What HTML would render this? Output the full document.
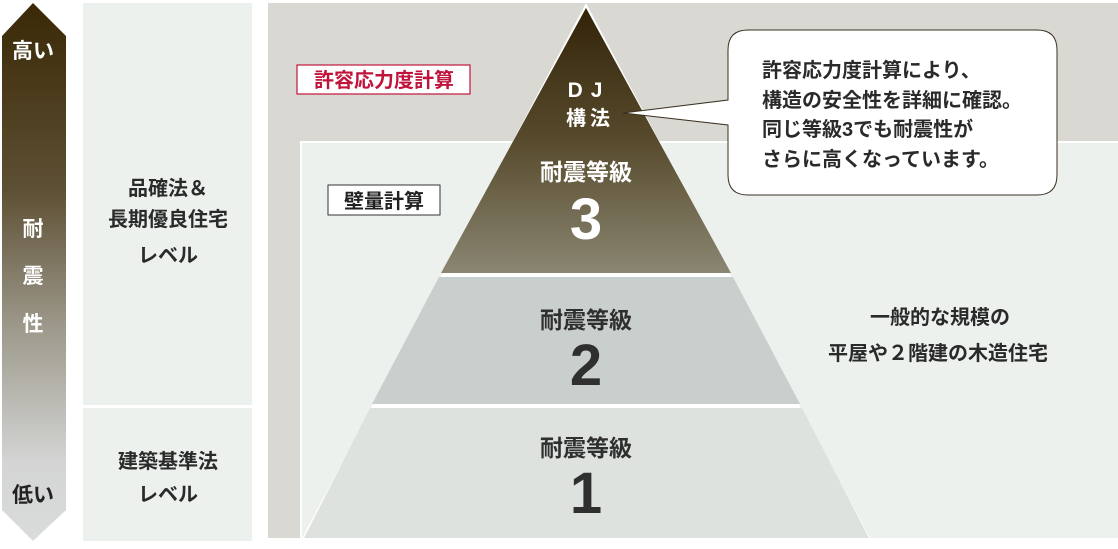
<!DOCTYPE html>
<html><head><meta charset="utf-8"><style>
html,body{margin:0;padding:0;background:#fff;}
svg text{font-family:"Liberation Sans","Noto Sans CJK JP",sans-serif;font-weight:bold;}
</style></head><body>
<svg width="1118" height="544" viewBox="0 0 1118 544" xmlns="http://www.w3.org/2000/svg">
<defs>
<linearGradient id="ar" x1="0" y1="0" x2="0" y2="1">
<stop offset="0" stop-color="#3a2806"/><stop offset="0.35" stop-color="#5e5034"/><stop offset="0.6" stop-color="#9c988a"/><stop offset="0.85" stop-color="#d3d4d3"/><stop offset="1" stop-color="#dadcdc"/>
</linearGradient>
<linearGradient id="py" x1="0" y1="5" x2="0" y2="273" gradientUnits="userSpaceOnUse">
<stop offset="0" stop-color="#322308"/><stop offset="0.5" stop-color="#574a2c"/><stop offset="1" stop-color="#8a8672"/>
</linearGradient>
</defs>
<rect width="1118" height="544" fill="#fff"/>
<polygon points="33,3 66,36 66,510 33,541 2,510 2,36" fill="url(#ar)"/>
<rect x="83" y="3" width="169" height="538" fill="#edf1ee"/>
<rect x="83" y="405" width="169" height="3" fill="#fff"/>
<rect x="268" y="3" width="850" height="535" fill="#d9d8d2"/>
<rect x="300" y="141" width="818" height="397" fill="#fff"/>
<rect x="302" y="143" width="816" height="395" fill="#edf1ee"/>
<polygon points="586,3 301,540 871,540" fill="#fff"/>
<polygon points="586,8 441,273 731,273" fill="url(#py)"/>
<polygon points="439,277 733,277 800,404 372,404" fill="#c9cfcd"/>
<polygon points="370,408 802,408 869,538 304,538" fill="#dde2df"/>
<path d="M748,30 H1037 Q1057,30 1057,50 V175 Q1057,195 1037,195 H748 Q728,195 728,175 V125 L623,113 L728,100 V50 Q728,30 748,30 Z" fill="#fff" stroke="#3a3020" stroke-width="1"/>
<g font-size="20" fill="#2a2a2a">
<text x="762" y="77">許容応力度計算により、</text>
<text x="762" y="107">構造の安全性を詳細に確認。</text>
<text x="762" y="136">同じ等級3でも耐震性が</text>
<text x="762" y="166">さらに高くなっています。</text>
</g>
<rect x="297" y="65" width="173" height="29" fill="#fff" stroke="#c0143c" stroke-width="1.2"/>
<text x="384" y="87" font-size="20" fill="#c0143c" text-anchor="middle">許容応力度計算</text>
<rect x="328" y="185" width="112" height="30" fill="#fff" stroke="#333" stroke-width="1"/>
<text x="384" y="208" font-size="20" fill="#222" text-anchor="middle">壁量計算</text>
<g fill="#fff" text-anchor="middle">
<text x="589" y="97" font-size="21" letter-spacing="8">DJ</text>
<text x="590" y="125" font-size="20" letter-spacing="4">構法</text>
<text x="586" y="180" font-size="23">耐震等級</text>
<text x="586" y="239" font-size="58">3</text>
</g>
<g fill="#2f2f2f" text-anchor="middle">
<text x="586" y="328" font-size="23">耐震等級</text>
<text x="586" y="385" font-size="58">2</text>
<text x="586" y="456" font-size="23">耐震等級</text>
<text x="586" y="513" font-size="58">1</text>
</g>
<g fill="#2a2a2a" text-anchor="middle" font-size="20">
<text x="940" y="324">一般的な規模の</text>
<text x="938" y="360">平屋や２階建の木造住宅</text>
<text x="168" y="195">品確法＆</text>
<text x="168" y="226">長期優良住宅</text>
<text x="168" y="262">レベル</text>
<text x="168" y="468">建築基準法</text>
<text x="168" y="501">レベル</text>
</g>
<g fill="#fff" text-anchor="middle" font-size="21">
<text x="33" y="58">高い</text>
<text x="33" y="236">耐</text>
<text x="33" y="283">震</text>
<text x="33" y="331">性</text>
</g>
<text x="33" y="502" fill="#222" text-anchor="middle" font-size="21" font-weight="bold">低い</text>
</svg>
</body></html>
